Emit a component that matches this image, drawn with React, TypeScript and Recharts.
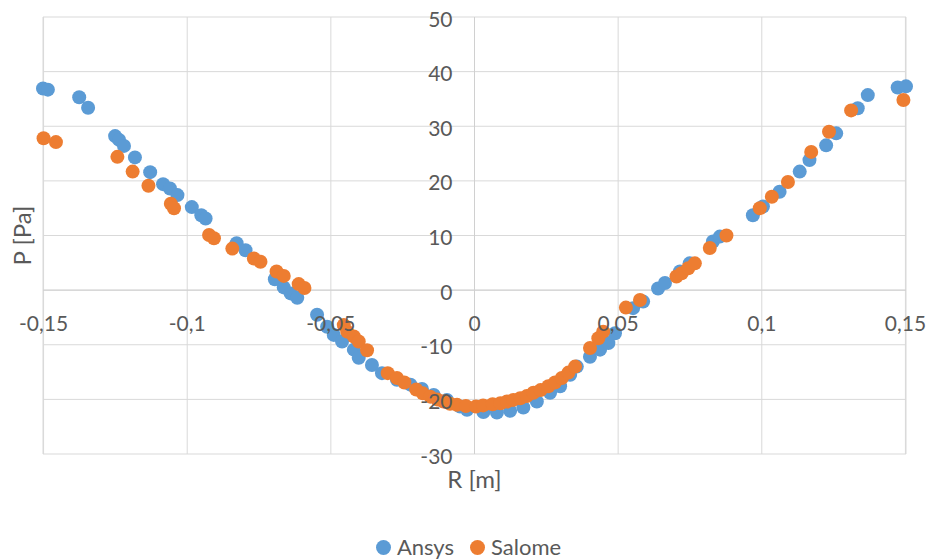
import {
	CartesianGrid,
	Label,
	Legend,
	ReferenceLine,
	Scatter,
	ScatterChart,
	XAxis,
	YAxis,
} from "recharts";

// R [m] and P [Pa]
const ansysR = [
	-0.1502, -0.1485, -0.1376, -0.1345, -0.1251, -0.1237, -0.122, -0.1182, -0.1129, -0.1084,
	-0.106, -0.1034, -0.0984, -0.0951, -0.0936, -0.0828, -0.0797, -0.0695, -0.0664, -0.064,
	-0.0617, -0.0548, -0.0513, -0.049, -0.0461, -0.042, -0.0403, -0.0357, -0.0322, -0.027,
	-0.0223, -0.0183, -0.0142, -0.0096, -0.005, -0.0026, 0.0031, 0.0078, 0.0124, 0.017,
	0.0217, 0.0263, 0.0298, 0.0333, 0.0356, 0.0402, 0.0437, 0.0466, 0.0489, 0.0552,
	0.0587, 0.0639, 0.0663, 0.0715, 0.0749, 0.083, 0.0854, 0.0969, 0.1004, 0.1062,
	0.1132, 0.1166, 0.1224, 0.1259, 0.1334, 0.1369, 0.1473, 0.1502,
];
const ansysP = [
	36.9, 36.7, 35.3, 33.4, 28.2, 27.5, 26.4, 24.3, 21.6, 19.4,
	18.6, 17.4, 15.2, 13.7, 13.1, 8.6, 7.3, 2.0, 0.5, -0.6,
	-1.4, -4.5, -6.7, -8.2, -9.4, -10.9, -12.4, -13.7, -15.2, -16.4,
	-17.3, -18.1, -19.2, -20.1, -21.3, -21.9, -22.3, -22.4, -22.1, -21.5,
	-20.4, -18.8, -17.6, -15.5, -14.0, -12.2, -10.9, -9.7, -7.9, -3.3,
	-2.1, 0.3, 1.3, 3.4, 4.9, 8.9, 9.8, 13.7, 15.3, 18.0,
	21.7, 23.8, 26.5, 28.7, 33.3, 35.7, 37.1, 37.3,
];

const salomeR = [
	-0.15, -0.1457, -0.1243, -0.119, -0.1135, -0.1057, -0.1046, -0.0924, -0.0907, -0.0843,
	-0.0768, -0.0745, -0.0689, -0.0664, -0.0612, -0.0592, -0.0455, -0.0443, -0.042, -0.0403,
	-0.0374, -0.0302, -0.027, -0.0244, -0.0203, -0.018, -0.0154, -0.013, -0.0108, -0.0085,
	-0.0061, -0.003, 0.0005, 0.003, 0.0063, 0.009, 0.0113, 0.0135, 0.0159, 0.0182,
	0.0205, 0.023, 0.0257, 0.028, 0.0304, 0.0327, 0.035, 0.0402, 0.0431, 0.0448,
	0.0527, 0.0576, 0.0703, 0.0721, 0.0744, 0.0767, 0.0819, 0.0877, 0.0993, 0.1035,
	0.1091, 0.1172, 0.1234, 0.1311, 0.1493,
];
const salomeP = [
	27.8, 27.1, 24.4, 21.7, 19.1, 15.8, 15.0, 10.1, 9.5, 7.6,
	5.8, 5.2, 3.4, 2.6, 1.1, 0.4, -6.4, -7.6, -8.5, -9.4,
	-11.0, -15.2, -16.1, -16.9, -18.2, -18.9, -19.5, -20.0, -20.4, -20.8,
	-21.0, -21.2, -21.3, -21.1, -20.9, -20.7, -20.4, -20.1, -19.8, -19.4,
	-18.8, -18.3, -17.6, -16.9, -16.1, -15.1, -14.0, -10.6, -8.8, -7.6,
	-3.2, -1.8, 2.5, 3.1, 4.0, 4.9, 7.7, 10.0, 15.0, 17.1,
	19.8, 25.3, 29.0, 32.9, 34.8,
];

const xTicks = [-0.15, -0.1, -0.05, 0, 0.05, 0.1, 0.15];
const yTicks = [-30, -20, -10, 0, 10, 20, 30, 40, 50];

const SERIES = [
	{ name: "Ansys", color: "#5B9BD5", r: ansysR, p: ansysP },
	{ name: "Salome", color: "#ED7D31", r: salomeR, p: salomeP },
];

const W = 929;
const H = 560;
const MARGIN = { top: 17, right: 23, bottom: 0, left: 0 };
const Y_AXIS_W = 43;
const X_AXIS_H = 40;
const LEGEND_H = 66;
const FONT = "Lato, 'Open Sans', sans-serif";
const TEXT = "#595959";

const plotLeft = MARGIN.left + Y_AXIS_W;
const plotWidth = W - plotLeft - MARGIN.right;
const plotTop = MARGIN.top;
const plotHeight = H - MARGIN.top - X_AXIS_H - LEGEND_H;
const xMin = xTicks[0];
const xMax = xTicks[xTicks.length - 1];
const yMin = yTicks[0];
const yMax = yTicks[yTicks.length - 1];
const zeroX = plotLeft + ((0 - xMin) / (xMax - xMin)) * plotWidth;
const zeroY = plotTop + ((yMax - 0) / (yMax - yMin)) * plotHeight;

const fmt = (v: number) => String(v).replace(".", ",");

function XTick(props: any) {
	return (
		<text
			x={props.x}
			y={zeroY + 32}
			textAnchor="middle"
			dominantBaseline="central"
			fill={TEXT}
			fontSize={21}
			fontFamily={FONT}
		>
			{fmt(props.payload.value)}
		</text>
	);
}

function YTick(props: any) {
	return (
		<text
			x={zeroX - 22}
			y={props.y + 1}
			textAnchor="end"
			dominantBaseline="central"
			fill={TEXT}
			fontSize={21}
			fontFamily={FONT}
		>
			{fmt(props.payload.value)}
		</text>
	);
}

function LegendContent() {
	return (
		<div
			style={{
				height: LEGEND_H,
				display: "flex",
				justifyContent: "center",
				alignItems: "flex-end",
				boxSizing: "border-box",
				paddingLeft: 31,
				fontFamily: FONT,
				fontSize: 22,
				lineHeight: "26px",
				color: TEXT,
			}}
		>
			{SERIES.map((s) => (
				<div key={s.name} style={{ display: "flex", alignItems: "center", margin: "0 8px" }}>
					<span
						style={{
							width: 15,
							height: 15,
							borderRadius: 8,
							background: s.color,
							display: "inline-block",
							marginRight: 6,
						}}
					/>
					<span>{s.name}</span>
				</div>
			))}
		</div>
	);
}

export default function App() {
	return (
		<div style={{ position: "absolute", left: 0, top: 0, background: "#fff" }}>
			<ScatterChart width={W} height={H} margin={MARGIN}>
				<CartesianGrid stroke="#d9d9d9" />
				<XAxis
					type="number"
					dataKey="r"
					domain={[xMin, xMax]}
					ticks={xTicks}
					height={X_AXIS_H}
					axisLine={false}
					tickLine={false}
					tick={<XTick />}
					interval={0}
				>
					<Label
						content={() => (
							<text
								x={zeroX}
								y={plotTop + plotHeight + 24}
								textAnchor="middle"
								dominantBaseline="central"
								fill={TEXT}
								fontSize={24}
								fontFamily={FONT}
							>
								R [m]
							</text>
						)}
					/>
				</XAxis>
				<YAxis
					type="number"
					dataKey="p"
					domain={[yMin, yMax]}
					ticks={yTicks}
					width={Y_AXIS_W}
					axisLine={false}
					tickLine={false}
					tick={<YTick />}
					interval={0}
				>
					<Label
						content={() => {
							const cx = 21;
							const cy = plotTop + plotHeight / 2;
							return (
								<text
									x={cx}
									y={cy}
									transform={`rotate(-90 ${cx} ${cy})`}
									textAnchor="middle"
									dominantBaseline="central"
									fill={TEXT}
									fontSize={24}
									fontFamily={FONT}
								>
									P [Pa]
								</text>
							);
						}}
					/>
				</YAxis>
				<ReferenceLine x={0} stroke="#d0d0d0" />
				<ReferenceLine y={0} stroke="#d0d0d0" />
				<Legend verticalAlign="bottom" height={LEGEND_H} content={<LegendContent />} />
				{SERIES.map((s) => (
					<Scatter
						key={s.name}
						name={s.name}
						data={s.r.map((r, i) => ({ r, p: s.p[i] }))}
						fill={s.color}
						isAnimationActive={false}
						shape={(props: any) => <circle cx={props.cx} cy={props.cy} r={7} fill={s.color} />}
					/>
				))}
			</ScatterChart>
		</div>
	);
}
